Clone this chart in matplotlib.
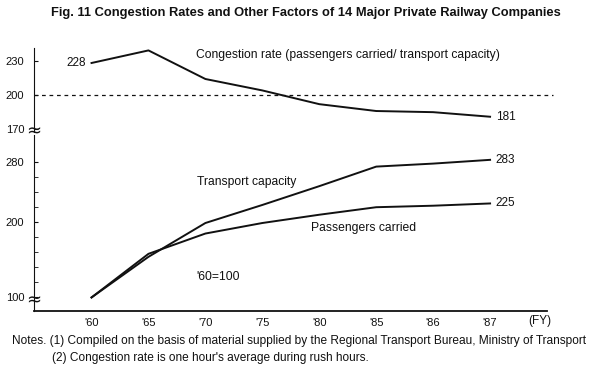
import matplotlib.pyplot as plt

years = ["'60", "'65", "'70", "'75", "'80", "'85", "'86", "'87"]
congestion = [228, 239, 214, 204, 192, 186, 185, 181]
capacity = [100, 154, 199, 223, 248, 274, 278, 283]
passengers = [100, 158, 185, 199, 210, 220, 222, 225]

plt.rcParams['font.family'] = ['Liberation Sans', 'DejaVu Sans']
ink = '#111111'

fig = plt.figure(figsize=(6, 3.76), dpi=100)
x = list(range(len(years)))
xlim = (-1.01, 8.0)

# upper panel: congestion rate
ax1 = fig.add_axes([0.0567, 0.650, 0.855, 0.222])
ax1.plot(x, congestion, color=ink, lw=1.4)
ax1.hlines(200, xlim[0], 8.1, colors=ink, linestyles=(0, (3, 3)), lw=0.9, clip_on=False)
ax1.set_xlim(xlim)
ax1.set_ylim(168, 241)
ax1.set_yticks([170, 200, 230])
ax1.set_yticklabels(['170', '200', '230'])
ax1.set_xticks([])
for s in ['top', 'right', 'bottom']:
    ax1.spines[s].set_visible(False)
ax1.spines['left'].set_color(ink)
ax1.tick_params(axis='y', direction='in', length=3, labelsize=8, colors=ink, pad=7)
ax1.text(0, 168.5, '≈', transform=ax1.get_yaxis_transform(), ha='center', va='center',
         fontsize=13, color=ink, family='DejaVu Sans')
ax1.text(-0.1, congestion[0], '228', ha='right', va='center', fontsize=8.5, color=ink)
ax1.text(7.1, congestion[-1], '181', ha='left', va='center', fontsize=8.5, color=ink)
ax1.text(1.83, 235, 'Congestion rate (passengers carried/ transport capacity)',
         ha='left', va='center', fontsize=8.7, color=ink)

# lower panel: index, '60 = 100
ax2 = fig.add_axes([0.0567, 0.1729, 0.855, 0.468])
ax2.plot(x, capacity, color=ink, lw=1.4)
ax2.plot(x, passengers, color=ink, lw=1.4)
ax2.set_xlim(xlim)
ax2.set_ylim(82, 316)
ax2.set_yticks([100, 200, 280])
ax2.set_yticks([120, 140, 160, 180, 220, 240, 260], minor=True)
ax2.set_xticks(x)
ax2.set_xticklabels(years)
for s in ['top', 'right']:
    ax2.spines[s].set_visible(False)
ax2.spines['left'].set_color(ink)
ax2.spines['bottom'].set_color(ink)
ax2.spines['bottom'].set_linewidth(1.3)
ax2.tick_params(axis='y', which='both', direction='in', length=3, labelsize=8, colors=ink, pad=7)
ax2.tick_params(axis='x', length=0, labelsize=8, colors=ink, pad=5)
ax2.text(0, 95.5, '≈', transform=ax2.get_yaxis_transform(), ha='center', va='center',
         fontsize=13, color=ink, family='DejaVu Sans')
ax2.text(7.88, -0.025, '(FY)', transform=ax2.get_xaxis_transform(), ha='center', va='top',
         fontsize=8.5, color=ink)
ax2.text(7.1, capacity[-1], '283', ha='left', va='center', fontsize=8.5, color=ink)
ax2.text(7.1, passengers[-1], '225', ha='left', va='center', fontsize=8.5, color=ink)
ax2.text(1.85, 254, 'Transport capacity', ha='left', va='center', fontsize=8.7, color=ink)
ax2.text(3.85, 193, 'Passengers carried', ha='left', va='center', fontsize=8.7, color=ink)
ax2.text(1.85, 127, "'60=100", ha='left', va='center', fontsize=8.7, color=ink)

fig.text(0.51, 0.965, 'Fig. 11 Congestion Rates and Other Factors of 14 Major Private Railway Companies',
         ha='center', va='center', fontsize=9.3, fontweight='bold', color=ink)
fig.text(0.02, 0.093, 'Notes. (1) Compiled on the basis of material supplied by the Regional Transport Bureau, Ministry of Transport',
         ha='left', va='center', fontsize=8.6, color=ink)
fig.text(0.087, 0.048, "(2) Congestion rate is one hour's average during rush hours.",
         ha='left', va='center', fontsize=8.6, color=ink)

fig.savefig('out.png', dpi=100)
